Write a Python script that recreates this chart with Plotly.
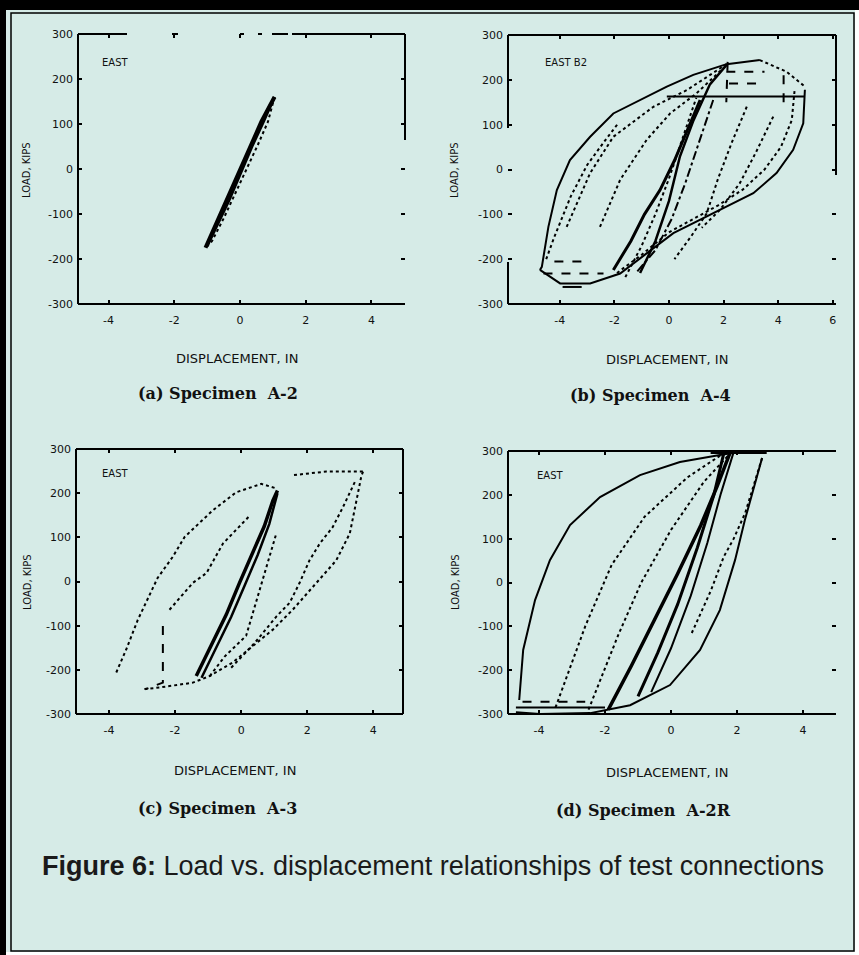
import plotly.graph_objects as go

W, H = 859, 955
BG = "#d6ebe7"

# ---------------- data ----------------
Y_TICKS = [-300, -200, -100, 0, 100, 200, 300]
X_TICKS_A = [-4, -2, 0, 2, 4]
X_TICKS_B = [-6, -4, -2, 0, 2, 4, 6]
X_TICKS_C = [-4, -2, 0, 2, 4]
X_TICKS_D = [-4, -2, 0, 2, 4]

# Panel (a) Specimen A-2 : narrow elastic loop
A_UP_X = [-1.05, -0.75, -0.4, -0.05, 0.3, 0.65, 1.05]
A_UP_Y = [-175, -125, -70, -10, 50, 105, 160]
A_UP2_X = [-1.0, -0.7, -0.33, 0.02, 0.37, 0.72, 1.05]
A_UP2_Y = [-172, -125, -70, -10, 50, 105, 160]
A_DN_X = [1.05, 0.85, 0.55, 0.2, -0.15, -0.5, -0.85, -1.05]
A_DN_Y = [160, 105, 55, 0, -55, -110, -160, -175]

# Panel (b) Specimen A-4
B_OUT_UP_X = [-4.73, -4.66, -4.42, -4.11, -3.63, -2.89, -2.04, -1.06, -0.08, 0.89, 2.11, 3.33]
B_OUT_UP_Y = [-224, -217, -128, -46, 21, 73, 125, 155, 185, 211, 235, 244]
B_OUT_TOP_X = [3.33, 4.31, 4.98]
B_OUT_TOP_Y = [244, 218, 185]
B_OUT_DN_X = [4.98, 4.92, 4.55, 3.94, 3.09, 2.11, 1.14, 0.16, -0.82, -1.79, -2.89, -3.99, -4.73]
B_OUT_DN_Y = [178, 103, 44, -8, -53, -83, -113, -142, -187, -232, -254, -254, -224]
B_IN_DN_X = [4.6, 4.5, 4.1, 3.5, 2.7, 1.8, 0.9, 0.0, -1.0, -2.0]
B_IN_DN_Y = [175, 110, 50, 0, -45, -80, -110, -140, -190, -235]
B_HLINE_X = [-0.08, 4.98]
B_HLINE_Y = [163, 163]
B_DASH1_X = [2.1, 3.5]
B_DASH1_Y = [218, 218]
B_DASH2_X = [2.2, 3.4]
B_DASH2_Y = [192, 192]
B_V1_X = [4.2, 4.2]
B_V1_Y = [210, 130]
B_V2_X = [2.15, 2.1]
B_V2_Y = [240, 150]
B_CORE1_X = [-2.04, -1.4, -0.9, -0.33, 0.2, 0.7, 1.14]
B_CORE1_Y = [-224, -160, -100, -46, 20, 90, 155]
B_CORE2_X = [-1.06, -0.5, 0.0, 0.4, 0.9, 1.5, 2.11]
B_CORE2_Y = [-231, -160, -70, 29, 110, 190, 233]
B_CORE3_X = [-1.6, -1.0, -0.5, 0.0, 0.5, 1.0]
B_CORE3_Y = [-240, -170, -100, -20, 70, 160]
B_MID1_X = [-3.75, -2.89, -2.04, -0.57, 0.65, 2.11]
B_MID1_Y = [-128, -8, 73, 140, 177, 235]
B_MID2_X = [-2.53, -1.79, -0.82, 0.04, 1.01, 2.11]
B_MID2_Y = [-128, -23, 66, 125, 170, 233]
B_DIAG1_X = [2.85, 2.3, 1.8, 1.38, 0.8, 0.2]
B_DIAG1_Y = [140, 60, -20, -98, -150, -200]
B_DIAG2_X = [3.82, 3.2, 2.6, 1.87, 1.2]
B_DIAG2_Y = [118, 40, -30, -90, -130]
B_DIAG3_X = [1.62, 1.1, 0.6, 0.1, -0.5, -1.2]
B_DIAG3_Y = [155, 60, -30, -110, -180, -230]
B_LEFT_X = [-4.5, -4.2, -3.6, -3.0, -2.4, -1.9]
B_LEFT_Y = [-200, -150, -60, 10, 60, 100]
B_BOT1_X = [-4.6, -2.4]
B_BOT1_Y = [-232, -232]
B_BOT2_X = [-4.2, -3.0]
B_BOT2_Y = [-205, -205]
B_BOT3_X = [-3.9, -3.2]
B_BOT3_Y = [-262, -262]

# Panel (c) Specimen A-3
C_TOP_X = [1.6, 2.58, 3.69]
C_TOP_Y = [241, 249, 249]
C_OUT_DN_X = [3.69, 3.64, 3.49, 3.29, 2.88, 2.17, 1.56, 0.96, 0.35, -0.25, -0.95, -1.46, -2.47, -2.98]
C_OUT_DN_Y = [249, 239, 183, 109, 48, -12, -64, -109, -146, -183, -214, -229, -240, -244]
C_IN_DN_X = [3.44, 3.08, 2.77, 2.38, 2.07, 1.77, 1.47, 1.07, 0.4, -0.35]
C_IN_DN_Y = [225, 168, 123, 86, 48, -3, -48, -79, -140, -199]
C_CORE1_X = [-1.36, -0.9, -0.45, -0.05, 0.35, 0.7, 0.96, 1.1]
C_CORE1_Y = [-214, -145, -75, -3, 65, 125, 183, 206]
C_CORE2_X = [-1.2, -0.75, -0.3, 0.1, 0.5, 0.85, 1.1]
C_CORE2_Y = [-218, -150, -80, -10, 60, 130, 200]
C_CORE3_X = [-0.95, -0.5, 0.15, 0.67, 1.07]
C_CORE3_Y = [-214, -170, -123, 11, 110]
C_LEFT1_X = [-3.78, -3.48, -3.13, -2.87, -2.53, -2.07, -1.71, -0.86, -0.15, 0.61, 1.1]
C_LEFT1_Y = [-206, -154, -87, -45, 8, 56, 101, 161, 202, 221, 210]
C_LEFT2_X = [-2.17, -1.46, -1.05, -0.55, 0.26]
C_LEFT2_Y = [-64, -3, 19, 86, 149]
C_VERT_X = [-2.37, -2.37, -2.9]
C_VERT_Y = [-101, -229, -244]

# Panel (d) Specimen A-2R
D_OUT_UP_X = [-4.6, -4.48, -4.12, -3.67, -3.06, -2.15, -0.94, 0.27, 1.48, 2.24]
D_OUT_UP_Y = [-268, -154, -40, 51, 131, 195, 245, 275, 291, 300]
D_OUT_DN_X = [2.76, 2.24, 1.94, 1.48, 0.88, -0.03, -1.24, -2.45, -3.97, -4.7]
D_OUT_DN_Y = [284, 143, 51, -63, -154, -234, -280, -298, -300, -296]
D_TOP_X = [1.2, 2.9]
D_TOP_Y = [298, 298]
D_BOT1_X = [-4.7, -2.0]
D_BOT1_Y = [-285, -285]
D_BOT2_X = [-4.5, -2.6]
D_BOT2_Y = [-272, -272]
D_CORE1_X = [-1.9, -1.2, -0.5, 0.2, 0.9, 1.4, 1.8]
D_CORE1_Y = [-290, -190, -85, 20, 130, 220, 298]
D_CORE2_X = [-1.0, -0.4, 0.2, 0.8, 1.3, 1.6]
D_CORE2_Y = [-260, -160, -50, 80, 200, 295]
D_CORE3_X = [-0.6, 0.0, 0.6, 1.1, 1.5, 1.9]
D_CORE3_Y = [-250, -150, -30, 90, 200, 298]
D_MID1_X = [-3.5, -2.6, -1.8, -0.8, 0.5, 1.6]
D_MID1_Y = [-285, -100, 40, 150, 240, 295]
D_MID2_X = [-2.5, -1.6, -0.9, 0.0, 1.0, 1.8]
D_MID2_Y = [-290, -120, 0, 120, 230, 295]
D_RDOT_X = [2.76, 2.5, 2.25, 1.9, 1.6, 1.2, 0.6]
D_RDOT_Y = [284, 220, 159, 100, 59, -20, -120]

# ---------------- figure ----------------
fig = go.Figure()

PANELS = {
    "a": dict(ax="", dom_x=(78, 405), dom_y=(34, 304), rng=(-4.93, 5.02), ticks=X_TICKS_A),
    "b": dict(ax="2", dom_x=(508, 836), dom_y=(35, 304), rng=(-5.9, 6.12), ticks=X_TICKS_B),
    "c": dict(ax="3", dom_x=(76, 403), dom_y=(449, 714), rng=(-5.0, 4.9), ticks=X_TICKS_C),
    "d": dict(ax="4", dom_x=(508, 836), dom_y=(451, 714), rng=(-4.94, 5.0), ticks=X_TICKS_D),
}


def line(p, xs, ys, dash="solid", width=2.0):
    a = PANELS[p]["ax"]
    fig.add_trace(go.Scatter(x=xs, y=ys, mode="lines", xaxis="x" + a, yaxis="y" + a,
                             line=dict(color="black", width=width, dash=dash),
                             showlegend=False, hoverinfo="skip"))


# (a)
line("a", A_UP_X, A_UP_Y, "solid", 4)
line("a", A_UP2_X, A_UP2_Y, "solid", 2.5)
line("a", A_DN_X, A_DN_Y, "dot", 2)

# (b)
line("b", B_OUT_UP_X, B_OUT_UP_Y, "solid", 2)
line("b", B_OUT_TOP_X, B_OUT_TOP_Y, "dot", 2)
line("b", B_OUT_DN_X, B_OUT_DN_Y, "solid", 2)
line("b", B_IN_DN_X, B_IN_DN_Y, "dot", 2)
line("b", B_HLINE_X, B_HLINE_Y, "solid", 2)
line("b", B_DASH1_X, B_DASH1_Y, "dash", 2)
line("b", B_DASH2_X, B_DASH2_Y, "dash", 2)
line("b", B_V1_X, B_V1_Y, "dash", 2)
line("b", B_V2_X, B_V2_Y, "dash", 2)
line("b", B_CORE1_X, B_CORE1_Y, "solid", 3)
line("b", B_CORE2_X, B_CORE2_Y, "solid", 2.5)
line("b", B_CORE3_X, B_CORE3_Y, "dot", 2)
line("b", B_MID1_X, B_MID1_Y, "dot", 2)
line("b", B_MID2_X, B_MID2_Y, "dot", 2)
line("b", B_DIAG1_X, B_DIAG1_Y, "dot", 2)
line("b", B_DIAG2_X, B_DIAG2_Y, "dot", 2)
line("b", B_DIAG3_X, B_DIAG3_Y, "dashdot", 2)
line("b", B_LEFT_X, B_LEFT_Y, "dot", 2)
line("b", B_BOT1_X, B_BOT1_Y, "dash", 2)
line("b", B_BOT2_X, B_BOT2_Y, "dash", 2)
line("b", B_BOT3_X, B_BOT3_Y, "solid", 2)

# (c)
line("c", C_TOP_X, C_TOP_Y, "dot", 2)
line("c", C_OUT_DN_X, C_OUT_DN_Y, "dot", 2)
line("c", C_IN_DN_X, C_IN_DN_Y, "dot", 2)
line("c", C_CORE1_X, C_CORE1_Y, "solid", 3.5)
line("c", C_CORE2_X, C_CORE2_Y, "solid", 2.5)
line("c", C_CORE3_X, C_CORE3_Y, "dot", 2)
line("c", C_LEFT1_X, C_LEFT1_Y, "dot", 2)
line("c", C_LEFT2_X, C_LEFT2_Y, "dot", 2)
line("c", C_VERT_X, C_VERT_Y, "dash", 2)

# (d)
line("d", D_OUT_UP_X, D_OUT_UP_Y, "solid", 2)
line("d", D_OUT_DN_X, D_OUT_DN_Y, "solid", 2)
line("d", D_TOP_X, D_TOP_Y, "solid", 4)
line("d", D_BOT1_X, D_BOT1_Y, "solid", 2)
line("d", D_BOT2_X, D_BOT2_Y, "dash", 2)
line("d", D_CORE1_X, D_CORE1_Y, "solid", 3.5)
line("d", D_CORE2_X, D_CORE2_Y, "solid", 3)
line("d", D_CORE3_X, D_CORE3_Y, "solid", 2)
line("d", D_MID1_X, D_MID1_Y, "dot", 2)
line("d", D_MID2_X, D_MID2_Y, "dot", 2)
line("d", D_RDOT_X, D_RDOT_Y, "dot", 2)

TICKFONT = dict(family="DejaVu Sans", size=11, color="#111")
axis_common = dict(showline=False, mirror="ticks", automargin=False,
                   ticks="inside", ticklen=4, tickwidth=1.5, tickcolor="black",
                   showgrid=False, zeroline=False, tickfont=TICKFONT, fixedrange=True)

layout = dict(width=W, height=H, autosize=False,
              margin=dict(l=0, r=0, t=0, b=0, pad=0, autoexpand=False),
              paper_bgcolor=BG, plot_bgcolor="rgba(0,0,0,0)", showlegend=False)

for key, p in PANELS.items():
    a = p["ax"]
    x0, x1 = p["dom_x"]
    y0, y1 = p["dom_y"]
    layout["xaxis" + a] = dict(axis_common, domain=[x0 / W, x1 / W], range=list(p["rng"]),
                               tickvals=p["ticks"], ticktext=[str(t) for t in p["ticks"]],
                               anchor="y" + a, ticklabelstandoff=8)
    layout["yaxis" + a] = dict(axis_common, domain=[1 - y1 / H, 1 - y0 / H], range=[-300, 300],
                               tickvals=Y_TICKS, ticktext=[str(t) for t in Y_TICKS],
                               anchor="x" + a, ticklabelstandoff=4)

fig.update_layout(**layout)

def px(x):
    return x / W

def py(y):
    return 1 - y / H

ann = []
def text(x, y, s, size=11, family="DejaVu Sans", angle=0, color="#111"):
    ann.append(dict(x=px(x), y=py(y), xref="paper", yref="paper", text=s, showarrow=False,
                    textangle=angle, font=dict(family=family, size=size, color=color),
                    xanchor="center", yanchor="middle"))

# axis titles
for cx, cy in [(237, 358), (667, 360), (235, 770), (667, 772)]:
    text(cx, cy, "DISPLACEMENT, IN", size=13)
for cx, cy in [(27, 170), (455, 170), (27, 582), (455, 582)]:
    text(cx, cy, "LOAD, KIPS", size=10, angle=-90)
# panel captions
CAPTIONS = ["(a) Specimen  A-2", "(b) Specimen  A-4", "(c) Specimen  A-3", "(d) Specimen  A-2R"]
for (cx, cy), s in zip([(218, 393), (650, 395), (217, 808), (643, 810)], CAPTIONS):
    text(cx, cy, "<b>" + s + "</b>", size=16, family="DejaVu Serif")
# in-panel labels
for cx, cy, s in [(115, 62, "EAST"), (566, 62, "EAST B2"), (115, 473, "EAST"), (550, 475, "EAST")]:
    text(cx, cy, s, size=10)
# figure caption
text(433, 866, "<b>Figure 6:</b> Load vs. displacement relationships of test connections",
     size=27, family="Liberation Sans", color="#1a1a1a")

fig.update_layout(annotations=ann)


def seg(x0, y0, x1, y1, w=2):
    return dict(type="line", xref="paper", yref="paper", x0=px(x0), y0=py(y0), x1=px(x1), y1=py(y1),
                line=dict(color="black", width=w), layer="above")


# scanned plot frames (pixel segments; some parts of the original frames are missing)
frames = [
    # (a)
    seg(78, 34, 78, 304), seg(78, 304, 405, 304), seg(78, 34, 127, 34), seg(172, 34, 178, 34),
    seg(240, 34, 244, 34), seg(258, 34, 262, 34), seg(272, 34, 288, 34), seg(292, 34, 405, 34),
    seg(405, 34, 405, 140),
    # (b)
    seg(508, 35, 836, 35), seg(508, 304, 836, 304), seg(508, 35, 508, 128), seg(508, 262, 508, 304),
    seg(836, 35, 836, 175),
    # (c)
    seg(76, 449, 403, 449), seg(76, 714, 403, 714), seg(76, 449, 76, 714), seg(403, 449, 403, 714),
    # (d)
    seg(508, 451, 836, 451), seg(508, 714, 836, 714), seg(508, 451, 508, 714),
]

shapes = [
    dict(type="rect", xref="paper", yref="paper", x0=0, x1=6 / W, y0=0, y1=1,
         fillcolor="black", line=dict(width=0), layer="above"),
    dict(type="rect", xref="paper", yref="paper", x0=0, x1=1, y0=py(10), y1=1,
         fillcolor="black", line=dict(width=0), layer="above"),
    dict(type="rect", xref="paper", yref="paper", x0=px(855), x1=1, y0=0, y1=py(10),
         fillcolor="white", line=dict(width=0), layer="above"),
    dict(type="rect", xref="paper", yref="paper", x0=px(6), x1=1, y0=0, y1=py(952),
         fillcolor="white", line=dict(width=0), layer="above"),
    dict(type="rect", xref="paper", yref="paper", x0=px(11), x1=px(854), y0=py(951), y1=py(13),
         line=dict(color="black", width=1.5), layer="above"),
] + frames
fig.update_layout(shapes=shapes)

fig.write_html("out.html", config={"displayModeBar": False, "responsive": False},
               post_script="document.body.style.margin='0';document.body.style.padding='0';"
                           "document.documentElement.style.overflow='hidden';")
